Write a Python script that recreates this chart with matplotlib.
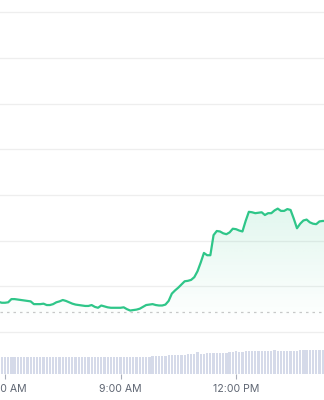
import matplotlib
matplotlib.use("Agg")
import matplotlib.pyplot as plt
import matplotlib.dates as mdates
import numpy as np
import pandas as pd

# ---- data (5-minute samples) ----
start_time = "2024-01-15 05:50"
step = "5min"
prices = [
    100.66, 100.64, 100.64, 100.65, 100.72, 100.72, 100.71, 100.70, 100.69, 100.68,
    100.67, 100.61, 100.61, 100.61, 100.62, 100.59, 100.59, 100.61, 100.65, 100.67,
    100.70, 100.68, 100.65, 100.62, 100.60, 100.59, 100.58, 100.57, 100.57, 100.59,
    100.55, 100.53, 100.58, 100.56, 100.54, 100.53, 100.53, 100.53, 100.53, 100.54,
    100.50, 100.47, 100.48, 100.49, 100.51, 100.55, 100.59, 100.60, 100.61, 100.59,
    100.58, 100.58, 100.60, 100.68, 100.84, 100.91, 100.97, 101.04, 101.11, 101.12,
    101.14, 101.20, 101.33, 101.52, 101.73, 101.68, 101.68, 102.12, 102.21, 102.20,
    102.16, 102.14, 102.18, 102.26, 102.25, 102.22, 102.20, 102.43, 102.63, 102.62,
    102.60, 102.61, 102.62, 102.56, 102.60, 102.60, 102.66, 102.70, 102.65, 102.65,
    102.69, 102.67, 102.48, 102.27, 102.37, 102.44, 102.46, 102.40, 102.37, 102.36,
    102.42, 102.43, 102.43,
]
volumes = [
    17.3, 17.0, 17.1, 16.9, 17.0, 17.1, 17.0, 16.9, 17.0, 17.1,
    17.0, 17.0, 16.9, 17.1, 17.0, 17.0, 17.1, 17.0, 16.9, 17.0,
    17.1, 17.0, 17.0, 17.1, 17.0, 16.9, 17.0, 17.0, 17.1, 17.0,
    17.0, 17.1, 17.0, 17.0, 17.1, 17.0, 17.1, 17.0, 17.2, 17.1,
    17.2, 17.2, 17.3, 17.3, 17.4, 17.4, 17.5, 17.5, 17.7, 17.9,
    18.2, 18.3, 18.5, 18.6, 18.8, 18.9, 19.0, 19.2, 19.4, 19.6,
    19.7, 19.8, 22.0, 20.3, 20.5, 20.8, 21.0, 21.0, 21.0, 21.0,
    21.1, 21.1, 22.3, 22.3, 22.6, 22.4, 22.4, 22.6, 22.6, 22.6,
    22.6, 22.7, 22.7, 22.7, 22.7, 22.8, 24.3, 23.3, 23.3, 23.3,
    23.3, 23.4, 23.4, 23.4, 24.3, 24.3, 24.3, 24.3, 24.4, 24.4,
    24.4, 24.4, 24.4,
]
ref_price = 100.44
grid_levels = [100, 101, 102, 103, 104, 105, 106, 107]
tick_times = ["2024-01-15 06:00", "2024-01-15 09:00", "2024-01-15 12:00"]
x_range = ["2024-01-15 05:52:13", "2024-01-15 14:17:06"]

times = pd.date_range(start_time, periods=len(prices), freq=step)
xt = mdates.date2num(times.to_pydatetime())

line_color = "#2fc689"

fig = plt.figure(figsize=(3.24, 4.0), dpi=100)
ax = fig.add_axes([0, 26 / 400, 1, 374 / 400])
ax.set_facecolor("none")
for s in ax.spines.values():
    s.set_visible(False)

ymin, ymax = 99.081, 107.265
ax.set_ylim(ymin, ymax)
x0, x1 = [mdates.date2num(pd.Timestamp(t).to_pydatetime()) for t in x_range]
ax.set_xlim(x0, x1)

# grid
for g in grid_levels:
    ax.axhline(g, color="#eeeeee", lw=0.9, zorder=0)

# reference dotted line
ax.axhline(ref_price, color="#c9c9c9", lw=0.9, linestyle=(0, (2, 3.2)), zorder=1)

# gradient fill under line
fill_bottom = 100.2
poly = ax.fill_between(xt, prices, fill_bottom, color="none", lw=0)
top = max(prices)
grad = np.zeros((200, 2, 4))
rgb = matplotlib.colors.to_rgb(line_color)
grad[..., 0], grad[..., 1], grad[..., 2] = rgb
alphas = np.linspace(0.14, 0.0, 200)[:, None]
grad[..., 3] = alphas
im = ax.imshow(grad, extent=[x0, x1, fill_bottom, top], origin="upper",
               aspect="auto", zorder=1, interpolation="bilinear")
paths = poly.get_paths()
if paths:
    im.set_clip_path(paths[0], transform=ax.transData)

ax.plot(xt, prices, color=line_color, lw=1.6, zorder=3, solid_joinstyle="round")

# volume
axv = ax.twinx()
axv.set_ylim(0, 374)
axv.set_xlim(x0, x1)
bar_w = (5 / 1440) * 0.7
axv.bar(xt, volumes, width=bar_w, color="#d5dae9", align="center", zorder=1)
for s in axv.spines.values():
    s.set_visible(False)
axv.set_yticks([])
ax.set_yticks([])

# x ticks
ticks = [mdates.date2num(pd.Timestamp(t).to_pydatetime()) for t in tick_times]
ax.set_xticks(ticks)

def fmt(v, pos=None):
    d = mdates.num2date(v)
    h = d.hour % 12 or 12
    return f"{h}:{d.minute:02d} {'AM' if d.hour < 12 else 'PM'}"

ax.set_xticklabels([fmt(t) for t in ticks])
ax.tick_params(axis="x", direction="out", length=3.5, width=0.8, color="#a8adb8",
               labelcolor="#5f6673", labelsize=7.6, pad=4)
for lab in ax.get_xticklabels():
    lab.set_fontfamily(["Inter", "DejaVu Sans"])
axv.tick_params(axis="x", bottom=False, labelbottom=False)

fig.savefig("out.png", dpi=100, facecolor="white")
